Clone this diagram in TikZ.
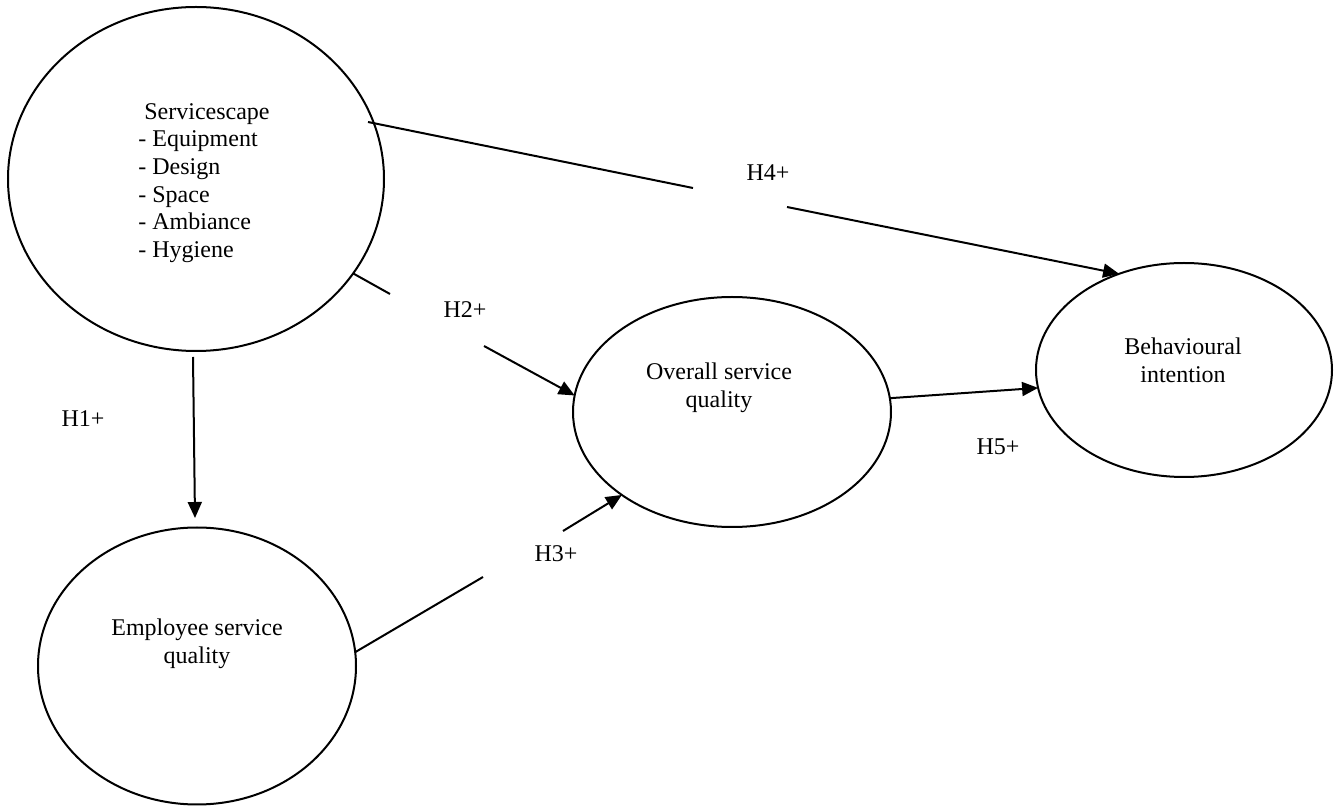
\documentclass[tikz,border=0pt]{standalone}
\usepackage{fontspec}
\setmainfont{Liberation Serif}
\usetikzlibrary{shapes.geometric,arrows.meta}
\begin{document}
\begin{tikzpicture}[x=0.5pt,y=-0.5pt,
  oval/.style={draw,ellipse,line width=1pt,inner sep=0pt,outer sep=0pt},
  txt/.style={font=\fontsize{12pt}{13.8pt}\selectfont,inner sep=0pt,align=center},
  lbl/.style={font=\fontsize{12pt}{13.8pt}\selectfont,inner sep=0pt},
  conn/.style={line width=1pt},
  arr/.style={line width=1pt,-{Triangle[length=8pt,width=7pt]}}]
\useasboundingbox (0,0) rectangle (1335,807);
% ellipses
\node[oval,minimum width=188pt,minimum height=172pt] (ss) at (196,179) {};
\node[oval,minimum width=159pt,minimum height=138.5pt] (em) at (197,666) {};
\node[oval,minimum width=159pt,minimum height=115pt] (os) at (732,412) {};
\node[oval,minimum width=148pt,minimum height=107pt] (be) at (1184,370) {};
% texts
\node[txt,align=left] (sst) at (204,183) {\ Servicescape\\- Equipment\\- Design\\- Space\\- Ambiance\\- Hygiene};
\node[txt] (emt) at (197,644) {Employee service\\quality};
\node[txt] (ost) at (719,388) {Overall service\\quality};
\node[txt] (bet) at (1183,360) {Behavioural\\intention};
% labels
\node[lbl] (h1) at (83,419) {H1+};
\node[lbl] (h2) at (465,310) {H2+};
\node[lbl] (h3) at (556,554) {H3+};
\node[lbl] (h4) at (768,173) {H4+};
\node[lbl] (h5) at (998,447) {H5+};
% connector coordinates
\coordinate (h1a) at (193,357);
\coordinate (h1b) at (195,518);
\coordinate (h2a) at (390,294);
\coordinate (h2b) at (484,346);
\coordinate (h3a) at (483,577);
\coordinate (h3b) at (563,531);
\coordinate (h4a) at (693,188);
\coordinate (h4b) at (787,207);
\coordinate (h4s) at (368,122);
% connectors
\draw[conn] (h4s) -- (h4a);
\draw[arr] (h4b) -- (be.124.5);
\draw[conn] (ss.-31.1) -- (h2a);
\draw[arr] (h2b) -- (os.174.5);
\draw[arr] (h1a) -- (h1b);
\draw[conn] (em.5.8) -- (h3a);
\draw[arr] (h3b) -- (os.217.7);
\draw[arr] (os.5) -- (be.187);
\end{tikzpicture}
\end{document}
